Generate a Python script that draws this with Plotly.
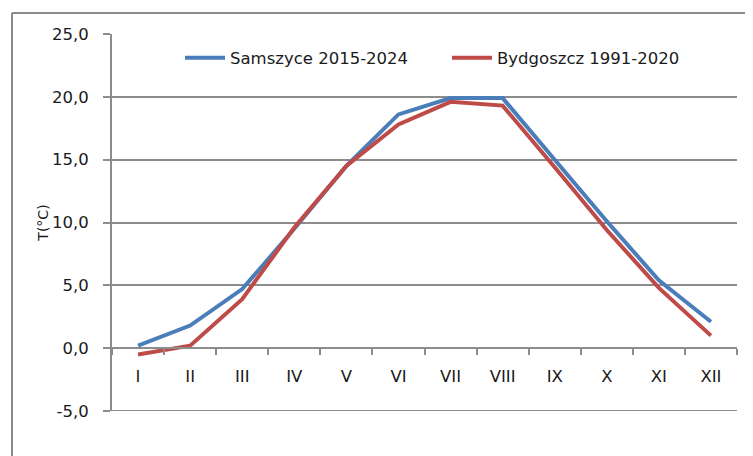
import plotly.graph_objects as go

months = ["I", "II", "III", "IV", "V", "VI", "VII", "VIII", "IX", "X", "XI", "XII"]
samszyce = [0.2, 1.8, 4.7, 9.5, 14.5, 18.6, 19.9, 19.9, 15.0, 10.1, 5.4, 2.1]
bydgoszcz = [-0.5, 0.2, 3.9, 9.6, 14.5, 17.8, 19.6, 19.3, 14.4, 9.4, 4.8, 1.0]
y_ticks = [-5, 0, 5, 10, 15, 20, 25]
y_tick_labels = ["-5,0", "0,0", "5,0", "10,0", "15,0", "20,0", "25,0"]

FONT = "DejaVu Sans"
GRID = "#8c8c8c"
OFF = 8  # default page body margin
W, H = 753 - OFF, 456 - OFF
L, R, T, B = 112 - OFF, 16, 34 - OFF, 45
pw, ph = W - L - R, H - T - B

def px_x(p):  # page pixel -> paper
    return (p - OFF - L) / pw

def px_y(p):
    return (H - B - (p - OFF)) / ph

fig = go.Figure()
fig.add_trace(go.Scatter(x=months, y=samszyce, mode="lines", name="Samszyce 2015-2024",
                         line=dict(color="#4A7EBB", width=4)))
fig.add_trace(go.Scatter(x=months, y=bydgoszcz, mode="lines", name="Bydgoszcz 1991-2020",
                         line=dict(color="#BE4B48", width=4)))

fig.update_layout(
    width=W, height=H,
    margin=dict(l=L, r=R, t=T, b=B),
    paper_bgcolor="white", plot_bgcolor="white",
    font=dict(family=FONT, size=16.5, color="#1a1a1a"),
    showlegend=True,
    legend=dict(orientation="h", x=px_x(180), y=px_y(58), xanchor="left", yanchor="middle",
                bgcolor="rgba(0,0,0,0)", itemwidth=40, entrywidth=212,
                font=dict(family=FONT, size=16.5, color="#1a1a1a")),
    xaxis=dict(type="category", range=[-0.5, 11.5], anchor="free", position=5 / 30,
               showline=True, linecolor=GRID, linewidth=2,
               ticks="outside", tickson="boundaries", ticklen=6, tickcolor=GRID, tickwidth=2,
               showgrid=False, zeroline=False, ticklabelstandoff=13),
    yaxis=dict(range=[y_ticks[0], y_ticks[-1]], tickvals=y_ticks, ticktext=y_tick_labels,
               showline=True, linecolor=GRID, linewidth=2,
               ticks="outside", ticklen=7, tickcolor=GRID, tickwidth=2,
               showgrid=True, gridcolor=GRID, gridwidth=2, zeroline=False,
               ticklabelstandoff=11,
               title=dict(text="T(°C)", font=dict(family=FONT, size=14, color="#1a1a1a"), standoff=0)),
    shapes=[
        dict(type="line", xref="paper", yref="y", x0=0, x1=1, y0=y_ticks[0], y1=y_ticks[0],
             line=dict(color=GRID, width=2), layer="below"),
        dict(type="line", xref="paper", yref="paper", x0=px_x(12), x1=px_x(770), y0=px_y(13), y1=px_y(13),
             line=dict(color=GRID, width=2)),
        dict(type="line", xref="paper", yref="paper", x0=px_x(12), x1=px_x(12), y0=px_y(13), y1=px_y(480),
             line=dict(color=GRID, width=2)),
    ],
)

fig.write_html("out.html")
